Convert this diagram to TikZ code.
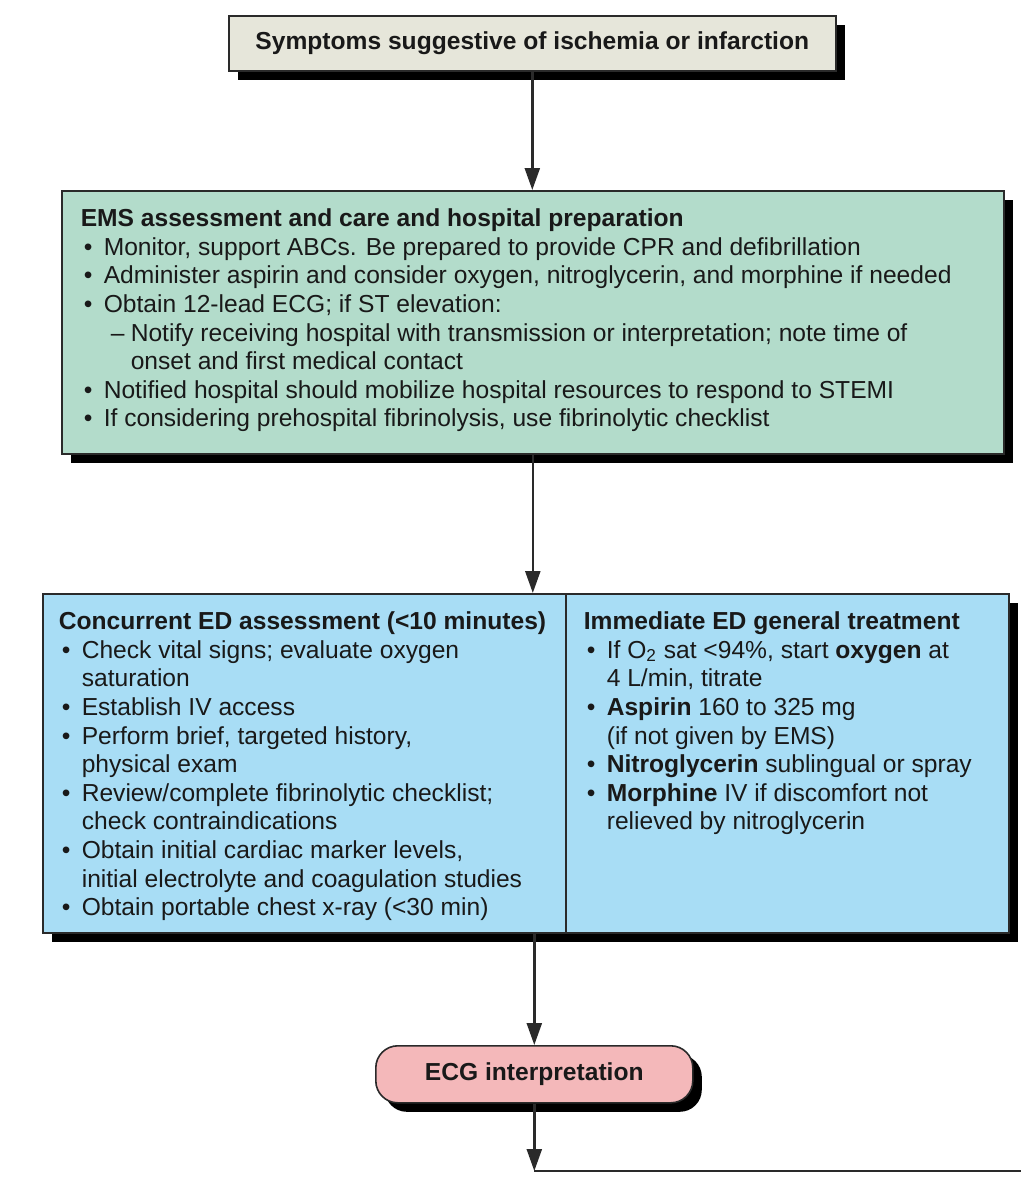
\documentclass[tikz,border=0pt]{standalone}
\usepackage{fontspec}
\setmainfont{Liberation Sans}
\usetikzlibrary{arrows.meta,shadows}
\definecolor{boxgrey}{HTML}{E6E6DA}
\definecolor{emsgreen}{HTML}{B3DCCB}
\definecolor{edblue}{HTML}{A8DDF5}
\definecolor{ecgpink}{HTML}{F4B8BA}
\definecolor{inkline}{HTML}{2A2A2A}
\tikzset{>={Triangle[length=11pt,width=7.5pt]}}
\tikzset{
  panel/.style={draw=inkline, line width=0.8pt, anchor=north west, text=black!90,
    drop shadow={shadow xshift=4.5pt, shadow yshift=-4.5pt, fill=black, opacity=1}},
  flow/.style={->, line width=1.2pt, draw=inkline}
}
\newcommand{\txt}{\fontsize{12.3}{14.3}\selectfont}
\newcommand{\itm}{\makebox[11.5pt][l]{\hspace{1.5pt}\textbullet}}
\newcommand{\cnt}{\hspace*{11.5pt}}
\newcommand{\subitm}{\hspace*{3.5pt}\makebox[10pt][l]{--}}

\begin{document}
\begin{tikzpicture}[x=0.5pt, y=-0.5pt]
\useasboundingbox (0,0) rectangle (1021,1177);
% boxes
\node[panel, fill=boxgrey, minimum width=303.5pt, minimum height=27.5pt, inner sep=0pt]
  (sympt) at (228,15) {\txt\bfseries Symptoms suggestive of ischemia or infarction};
\node[panel, fill=emsgreen, inner xsep=9.5pt, inner ysep=8pt] (ems) at (61,190)
  {\begin{minipage}[t][115.5pt][t]{452pt}\txt\vspace*{1pt}
   \textbf{EMS assessment and care and hospital preparation}\\
   \itm Monitor, support ABCs. Be prepared to provide CPR and defibrillation\\
   \itm Administer aspirin and consider oxygen, nitroglycerin, and morphine if needed\\
   \itm Obtain 12-lead ECG; if ST elevation:\\
   \cnt\subitm Notify receiving hospital with transmission or interpretation; note time of\\
   \cnt\hspace*{13.5pt}onset and first medical contact\\
   \itm Notified hospital should mobilize hospital resources to respond to STEMI\\
   \itm If considering prehospital fibrinolysis, use fibrinolytic checklist
   \end{minipage}};
\node[panel, fill=edblue, inner xsep=8pt, inner ysep=8pt] (assess) at (42,593)
  {\begin{minipage}[t][153.5pt][t]{245.5pt}\txt\vspace*{1pt}
   \textbf{Concurrent ED assessment (<10 minutes)}\\
   \itm Check vital signs; evaluate oxygen\\
   \cnt saturation\\
   \itm Establish IV access\\
   \itm Perform brief, targeted history,\\
   \cnt physical exam\\
   \itm Review/complete fibrinolytic checklist;\\
   \cnt check contraindications\\
   \itm Obtain initial cardiac marker levels,\\
   \cnt initial electrolyte and coagulation studies\\
   \itm Obtain portable chest x-ray (<30 min)
   \end{minipage}};
\node[panel, fill=edblue, inner xsep=9pt, inner ysep=8pt] (treat) at (565,593)
  {\begin{minipage}[t][153.5pt][t]{203.5pt}\txt\vspace*{1pt}
   \textbf{Immediate ED general treatment}\\
   \itm If O\textsubscript{2} sat <94\%, start \textbf{oxygen} at\\
   \cnt 4 L/min, titrate\\
   \itm \textbf{Aspirin} 160 to 325 mg\\
   \cnt (if not given by EMS)\\
   \itm \textbf{Nitroglycerin} sublingual or spray\\
   \itm \textbf{Morphine} IV if discomfort not\\
   \cnt relieved by nitroglycerin
   \end{minipage}};
\node[panel, fill=ecgpink, rounded corners=11pt, minimum width=158.5pt, minimum height=28.5pt, inner sep=0pt]
  (ecg) at (375,1045) {\txt\bfseries ECG interpretation};
\coordinate (exit) at (1021,1171);
\coordinate (turn) at (ecg.south |- exit);
% connectors
\draw[flow] (sympt.south) -- (sympt.south |- ems.north);
\draw[flow] (ems.south) -- (ems.south |- assess.north);
\draw[flow] (ecg.north |- assess.south) -- (ecg.north);
\draw[flow] (ecg.south) -- (turn);
\draw[line width=1.2pt, draw=inkline] (turn) -- (exit);
\end{tikzpicture}
\end{document}
